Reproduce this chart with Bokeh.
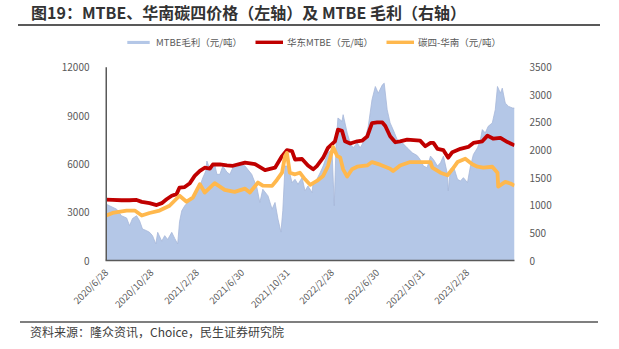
import math
import pandas as pd
from bokeh.plotting import figure
from bokeh.layouts import column
from bokeh.models import (ColumnDataSource, Range1d, LinearAxis, FixedTicker,
                          Legend, LegendItem, Div)
from bokeh.embed import file_html
from bokeh.resources import INLINE

# ---------------- data ----------------
margin_dates = ["2020-06-28", "2020-07-07", "2020-07-26", "2020-08-08", "2020-08-22", "2020-08-30",
                "2020-09-07", "2020-09-18", "2020-09-26", "2020-10-04", "2020-10-15", "2020-10-23",
                "2020-10-31", "2020-11-09", "2020-11-14", "2020-11-25", "2020-12-03", "2020-12-11",
                "2020-12-22", "2020-12-30", "2021-01-07", "2021-01-12", "2021-01-18", "2021-01-26",
                "2021-02-03", "2021-02-14", "2021-02-22", "2021-03-08", "2021-03-16", "2021-03-24",
                "2021-03-27", "2021-04-04", "2021-04-12", "2021-04-17", "2021-04-23", "2021-05-01",
                "2021-05-09", "2021-05-20", "2021-05-28", "2021-06-05", "2021-06-18", "2021-07-02",
                "2021-07-08", "2021-07-26", "2021-08-09", "2021-08-17", "2021-08-25", "2021-09-08",
                "2021-09-19", "2021-09-27", "2021-10-05", "2021-10-13", "2021-10-18", "2021-10-24",
                "2021-11-01", "2021-11-12", "2021-11-20", "2021-11-28", "2021-12-09", "2021-12-17",
                "2021-12-25", "2022-01-05", "2022-01-08", "2022-01-18", "2022-01-27", "2022-02-04",
                "2022-02-17", "2022-02-28", "2022-03-06", "2022-03-11", "2022-03-16", "2022-03-27",
                "2022-03-30", "2022-04-10", "2022-04-18", "2022-04-26", "2022-05-07", "2022-05-15",
                "2022-05-28", "2022-06-06", "2022-06-16", "2022-06-25", "2022-07-03", "2022-07-14",
                "2022-07-19", "2022-07-27", "2022-08-04", "2022-08-12", "2022-08-23", "2022-09-06",
                "2022-09-19", "2022-10-03", "2022-10-16", "2022-10-24", "2022-11-02", "2022-11-12",
                "2022-11-21", "2022-11-29", "2022-12-10", "2022-12-18", "2022-12-26", "2023-01-06",
                "2023-01-08", "2023-01-14", "2023-01-22", "2023-02-02", "2023-02-10", "2023-02-18",
                "2023-03-01", "2023-03-09", "2023-03-17", "2023-03-28", "2023-04-05", "2023-04-10",
                "2023-04-18", "2023-04-26", "2023-05-07", "2023-05-15", "2023-05-21", "2023-05-29",
                "2023-06-03", "2023-06-11", "2023-06-20", "2023-07-01", "2023-07-06"]
mtbe_margin = [1020, 990, 930, 810, 770, 630,
               760, 810, 720, 570, 540, 510,
               450, 300, 510, 350, 450, 380,
               510, 400, 300, 700, 900, 990,
               1050, 1110, 1150, 1350, 1500, 1620,
               1800, 1650, 1750, 1740, 1560, 1560,
               1710, 1600, 1560, 1680, 1700, 1730,
               1710, 1560, 1320, 1050, 1290, 1170,
               930, 1050, 750, 515, 900, 1710,
               1710, 1410, 1470, 1380, 1500, 1260,
               1350, 1230, 1410, 1470, 1590, 1710,
               1950, 2010, 990, 2130, 2580, 2520,
               2640, 2310, 2130, 2040, 2130, 2040,
               2190, 2430, 2910, 3150, 3030, 3180,
               3210, 2730, 2490, 2370, 2190, 2130,
               2040, 1950, 1900, 1830, 1710, 1680,
               1890, 1830, 1710, 1770, 1890, 1560,
               1260, 1650, 1710, 1470, 1440, 1500,
               1410, 1710, 1920, 2040, 2190, 2370,
               2310, 2430, 2490, 2730, 3150, 3030,
               3120, 2850, 2790, 2760, 2760]

east_dates = ["2020-06-28", "2020-07-15", "2020-08-08", "2020-08-30", "2020-09-18", "2020-10-02",
              "2020-10-23", "2020-11-11", "2020-11-25", "2020-12-08", "2020-12-22", "2021-01-04",
              "2021-01-12", "2021-01-26", "2021-02-09", "2021-02-22", "2021-03-08", "2021-03-21",
              "2021-04-04", "2021-04-12", "2021-05-01", "2021-05-20", "2021-06-05", "2021-07-08",
              "2021-08-04", "2021-08-31", "2021-09-27", "2021-10-16", "2021-10-29", "2021-11-12",
              "2021-11-20", "2021-12-09", "2021-12-25", "2022-01-08", "2022-01-18", "2022-02-04",
              "2022-02-17", "2022-03-08", "2022-03-16", "2022-03-27", "2022-04-04", "2022-04-18",
              "2022-05-07", "2022-05-20", "2022-06-03", "2022-06-16", "2022-06-30", "2022-07-14",
              "2022-07-22", "2022-08-04", "2022-08-18", "2022-08-31", "2022-09-19", "2022-10-24",
              "2022-11-07", "2022-11-21", "2022-11-29", "2022-12-10", "2022-12-26", "2023-01-08",
              "2023-01-19", "2023-02-10", "2023-03-03", "2023-03-17", "2023-04-10", "2023-04-24",
              "2023-05-10", "2023-05-29", "2023-06-17", "2023-07-06"]
east_mtbe = [3780, 3760, 3740, 3740, 3760, 3640,
             3560, 3440, 3560, 3800, 4020, 4120,
             4530, 4560, 4800, 5250, 5560, 5760,
             5700, 5960, 5960, 5900, 5880, 6070,
             5980, 5610, 5760, 6480, 6850, 6790,
             6270, 6300, 5900, 5660, 5860, 6380,
             6990, 7400, 8120, 8050, 7400, 7260,
             7400, 7440, 7690, 8530, 8570, 8570,
             8350, 7710, 7340, 7400, 7500, 7440,
             7090, 7300, 7300, 6930, 6850, 6380,
             6720, 6930, 7050, 7300, 7400, 7750,
             7560, 7610, 7350, 7150]

c4_dates = ["2020-06-28", "2020-07-15", "2020-08-22", "2020-09-13", "2020-10-02", "2020-10-23",
            "2020-11-19", "2020-12-16", "2021-01-12", "2021-01-31", "2021-02-17", "2021-03-08",
            "2021-03-21", "2021-04-17", "2021-05-14", "2021-06-10", "2021-07-08", "2021-07-21",
            "2021-08-12", "2021-08-25", "2021-09-19", "2021-10-02", "2021-10-16", "2021-10-24",
            "2021-10-29", "2021-11-06", "2021-11-20", "2021-12-03", "2021-12-17", "2021-12-31",
            "2022-01-18", "2022-02-04", "2022-02-17", "2022-03-03", "2022-03-14", "2022-03-22",
            "2022-03-30", "2022-04-10", "2022-04-23", "2022-05-07", "2022-06-03", "2022-06-16",
            "2022-07-08", "2022-08-04", "2022-08-12", "2022-08-31", "2022-09-27", "2022-11-21",
            "2022-11-26", "2022-12-18", "2023-01-06", "2023-01-19", "2023-02-02", "2023-02-23",
            "2023-03-14", "2023-03-28", "2023-04-13", "2023-05-07", "2023-05-21", "2023-05-23",
            "2023-06-11", "2023-06-25", "2023-07-06"]
c4_south = [2790, 2950, 3100, 3100, 2790, 2950,
            3100, 3400, 4020, 3650, 3900, 4740,
            4220, 4800, 4380, 4260, 4460, 4220,
            4840, 4650, 4630, 5000, 5450, 6480,
            6680, 5450, 5350, 5450, 5040, 4700,
            4940, 5250, 5860, 7050, 6480, 6400,
            5660, 5210, 5660, 5820, 5900, 6110,
            5950, 5700, 5550, 5900, 6110, 6110,
            5760, 5450, 5290, 5660, 6110, 6320,
            5970, 5820, 5760, 5820, 5450, 4590,
            4880, 4780, 4650]

tick_dates = ["2020-06-28", "2020-10-28", "2021-02-28", "2021-06-30", "2021-10-31",
              "2022-02-28", "2022-06-30", "2022-10-31", "2023-02-28"]
tick_labels = ["2020/6/28", "2020/10/28", "2021/2/28", "2021/6/30", "2021/10/31",
               "2022/2/28", "2022/6/30", "2022/10/31", "2023/2/28"]

left_ticks = [0, 3000, 6000, 9000, 12000]
right_ticks = [0, 500, 1000, 1500, 2000, 2500, 3000, 3500]

title_text = "图19：MTBE、华南碳四价格（左轴）及 MTBE 毛利（右轴）"
source_text = "资料来源：隆众资讯，Choice，民生证券研究院"
series_names = ["MTBE毛利（元/吨）", "华东MTBE（元/吨）", "碳四-华南（元/吨）"]

# ---------------- layout constants ----------------
CJK = "Noto Sans CJK SC"
AREA_C = "#B4C7E7"
RED_C = "#C00000"
ORANGE_C = "#FFB84D"
GREY_T = "#595959"

W = 619
TOP_H = 30          # title block
BOT_H = 31          # source block
FIG_H = 349 - TOP_H - BOT_H
PLOT_TOP = 67 - TOP_H      # where the top tick (12000 / 3500) sits inside the figure
FRAME_H = 262 - TOP_H      # frame spans from figure top to x axis
# the frame starts at the very top of the figure so the legend can sit inside it;
# extend the ranges so that the top ticks land PLOT_TOP px below the frame top
scale = FRAME_H / (FRAME_H - PLOT_TOP)

margin_src = ColumnDataSource(dict(x=pd.to_datetime(margin_dates), y=mtbe_margin))
east_src = ColumnDataSource(dict(x=pd.to_datetime(east_dates), y=east_mtbe))
c4_src = ColumnDataSource(dict(x=pd.to_datetime(c4_dates), y=c4_south))

x0 = pd.Timestamp(margin_dates[0]) - pd.Timedelta(days=2)
x1 = pd.Timestamp(margin_dates[-1])

p = figure(width=W, height=FIG_H, output_backend="svg", toolbar_location=None,
           x_axis_type="datetime",
           x_range=Range1d(x0, x1),
           y_range=Range1d(left_ticks[0], left_ticks[-1] * scale),
           min_border_left=105, min_border_right=105, min_border_top=0,
           min_border_bottom=FIG_H - FRAME_H, margin=0)
p.extra_y_ranges = {"right": Range1d(right_ticks[0], right_ticks[-1] * scale)}
p.outline_line_color = None
p.xgrid.visible = False
p.ygrid.visible = False
p.background_fill_color = "white"
p.border_fill_color = "white"

r_area = p.varea(x="x", y1=0, y2="y", source=margin_src, fill_color=AREA_C,
                 y_range_name="right")
p.line(x="x", y="y", source=margin_src, line_color="#A7B8D9", line_width=0.8,
       y_range_name="right")
r_red = p.line(x="x", y="y", source=east_src, line_color=RED_C, line_width=3.8,
               line_join="round")
r_org = p.line(x="x", y="y", source=c4_src, line_color=ORANGE_C, line_width=3.8,
               line_join="round")

# left axis line only over the tick span (0 .. 12000)
p.segment(x0=[x0], y0=[left_ticks[0]], x1=[x0], y1=[left_ticks[-1]],
          line_color="#595959", line_width=3)

# axes
tick_ms = [pd.Timestamp(d).value / 1e6 for d in tick_dates]
xa = p.xaxis[0]
xa.ticker = FixedTicker(ticks=tick_ms)
xa.major_label_overrides = {t: l for t, l in zip(tick_ms, tick_labels)}
xa.major_label_orientation = math.pi / 4
xa.axis_line_color = "#595959"
xa.axis_line_width = 1.5
xa.major_tick_line_color = None
xa.minor_tick_line_color = None
xa.major_label_text_font = CJK
xa.major_label_text_font_size = "9.5px"
xa.major_label_text_color = GREY_T
xa.major_label_standoff = 4

ya = p.yaxis[0]
ya.ticker = FixedTicker(ticks=left_ticks)
ya.axis_line_color = None
ya.major_tick_line_color = None
ya.minor_tick_line_color = None
ya.major_label_text_font = CJK
ya.major_label_text_font_size = "10px"
ya.major_label_text_color = GREY_T
ya.major_label_standoff = 10

ra = LinearAxis(y_range_name="right", ticker=FixedTicker(ticks=right_ticks))
ra.axis_line_color = None
ra.major_tick_line_color = None
ra.minor_tick_line_color = None
ra.major_label_text_font = CJK
ra.major_label_text_font_size = "10px"
ra.major_label_text_color = GREY_T
ra.major_label_standoff = 9
p.add_layout(ra, "right")

# legend (inside the frame, above the data)
legend = Legend(items=[LegendItem(label=series_names[0], renderers=[r_area]),
                       LegendItem(label=series_names[1], renderers=[r_red]),
                       LegendItem(label=series_names[2], renderers=[r_org])],
                orientation="horizontal", location=(19, FRAME_H - (42 - TOP_H) - 9),
                glyph_width=28, glyph_height=4, label_standoff=4, spacing=13,
                label_text_font=CJK, label_text_font_size="9.5px",
                label_text_color=GREY_T, background_fill_alpha=0,
                border_line_alpha=0, padding=0, margin=0,
                label_height=12)
p.add_layout(legend, "center")

title_div = Div(width=W, height=TOP_H, margin=0, text=(
    f'<div style="position:relative;width:{W}px;height:{TOP_H}px;">'
    f'<div style="position:absolute;left:31px;top:2px;font-family:\'{CJK}\';'
    f'font-size:16px;font-weight:bold;color:#333333;line-height:20px;white-space:nowrap;">'
    f'{title_text}</div>'
    f'<div style="position:absolute;left:18px;top:24px;width:582px;height:2px;'
    f'background:#595959;"></div></div>'))

source_div = Div(width=W, height=BOT_H, margin=0, text=(
    f'<div style="position:relative;width:{W}px;height:{BOT_H}px;">'
    f'<div style="position:absolute;left:20px;top:3px;width:578px;height:1.5px;'
    f'background:#7F7F7F;"></div>'
    f'<div style="position:absolute;left:30px;top:6px;font-family:\'{CJK}\';'
    f'font-size:12px;color:#404040;line-height:16px;white-space:nowrap;">'
    f'{source_text}</div></div>'))

layout = column(title_div, p, source_div, spacing=0, margin=0)

open("out.html", "w").write(file_html(layout, INLINE))
